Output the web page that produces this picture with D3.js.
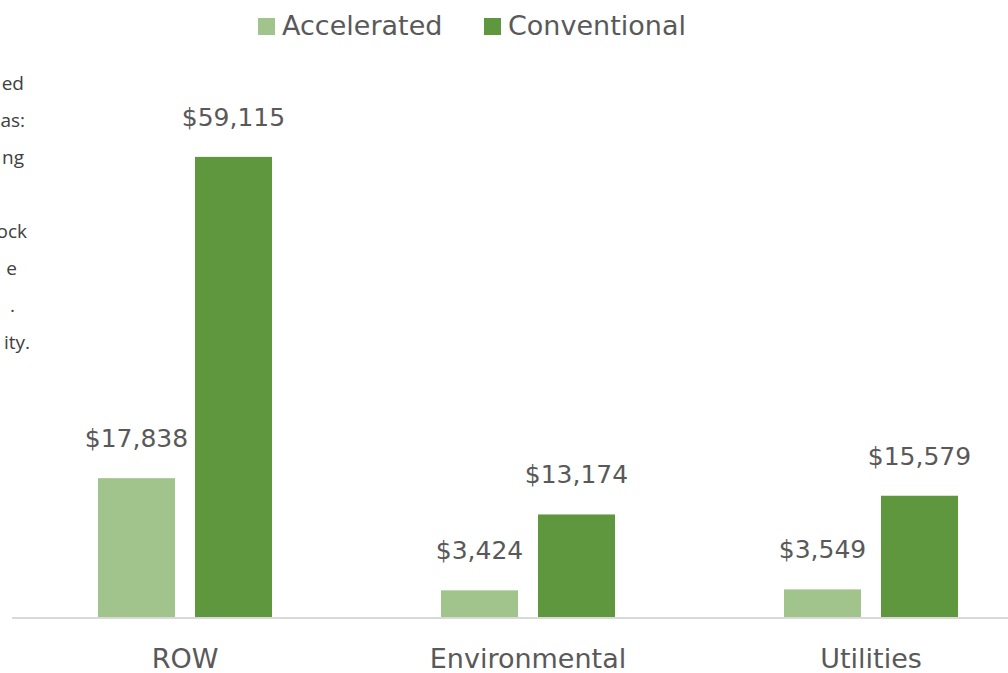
<!DOCTYPE html>
<html lang="en">
<meta charset="UTF-8">
<title>Accelerated vs Conventional</title>
<script src="https://d3js.org/d3.v7.min.js"></script>
<style>
body { margin: 0; background: #fff; overflow: hidden; }
.note { font-family: "Open Sans", sans-serif; font-size: 19px; fill: #404040; }
.lbl { font-family: "DejaVu Sans", sans-serif; font-size: 25px; fill: #595959; }
.cat { font-family: "DejaVu Sans", sans-serif; font-size: 27px; fill: #595959; }
.leg { font-family: "DejaVu Sans", sans-serif; font-size: 27px; fill: #595959; }
</style>
<body>
<svg width="1008" height="673"></svg>
<script>
// chart data
const categories = ['ROW', 'Environmental', 'Utilities'];
const series = ['Accelerated', 'Conventional'];
const accelerated = [17838, 3424, 3549];
const conventional = [59115, 13174, 15579];
const colors = ['#a1c48d', '#5f973e'];
// clipped tail of the text box on the left
const noteLines = ['ed', 'as:', 'ng', '', 'ock', 'e', '.', 'ity.'];
const noteRight = [24, 25, 24, 0, 27, 17, 15, 30];

const svg = d3.select('svg');
const W = 1008, baseY = 617;

const x0 = d3.scaleBand().domain(categories).range([13.5, 1042.5]);
const x1 = d3.scaleBand().domain(series).range([0, x0.bandwidth()])
  .paddingInner(0.206).paddingOuter(0.871);
const y = d3.scaleLinear().domain([0, 60000]).range([baseY, baseY - 467]);

const rows = categories.map((c, i) => ({cat: c, vals: [accelerated[i], conventional[i]]}));

// note text fragments
svg.append('g').selectAll('text').data(noteLines).enter().append('text')
  .attr('class', 'note')
  .attr('text-anchor', 'end')
  .attr('x', (d, i) => noteRight[i])
  .attr('y', (d, i) => 90 + i * 37)
  .text(d => d);

const g = svg.append('g');
const grp = g.selectAll('g.cat').data(rows).enter().append('g')
  .attr('transform', d => `translate(${x0(d.cat)},0)`);

grp.selectAll('rect').data(d => d.vals.map((v, j) => ({s: series[j], v, j})))
  .enter().append('rect')
    .attr('x', d => x1(d.s))
    .attr('width', x1.bandwidth())
    .attr('y', d => y(d.v))
    .attr('height', d => baseY - y(d.v))
    .attr('fill', d => colors[d.j]);

grp.selectAll('text.lbl').data(d => d.vals.map((v, j) => ({s: series[j], v})))
  .enter().append('text')
    .attr('class', 'lbl')
    .attr('text-anchor', 'middle')
    .attr('x', d => x1(d.s) + x1.bandwidth() / 2)
    .attr('y', d => y(d.v) - 31)
    .text(d => '$' + d3.format(',')(d.v));

// axis
svg.append('line')
  .attr('x1', 12).attr('x2', W)
  .attr('y1', baseY + 1).attr('y2', baseY + 1)
  .attr('stroke', '#d9d9d9').attr('stroke-width', 2);

svg.append('g').selectAll('text').data(categories).enter().append('text')
  .attr('class', 'cat')
  .attr('text-anchor', 'middle')
  .attr('x', d => x0(d) + x0.bandwidth() / 2)
  .attr('y', 668)
  .text(d => d);

// legend
const legX = [258, 484];
const leg = svg.append('g').selectAll('g').data(series).enter().append('g')
  .attr('transform', (d, i) => `translate(${legX[i]},0)`);
leg.append('rect').attr('x', 0).attr('y', 18).attr('width', 17).attr('height', 17)
  .attr('fill', (d, i) => colors[i]);
leg.append('text').attr('class', 'leg').attr('x', 24).attr('y', 35).text(d => d);
</script>
</body>
</html>
